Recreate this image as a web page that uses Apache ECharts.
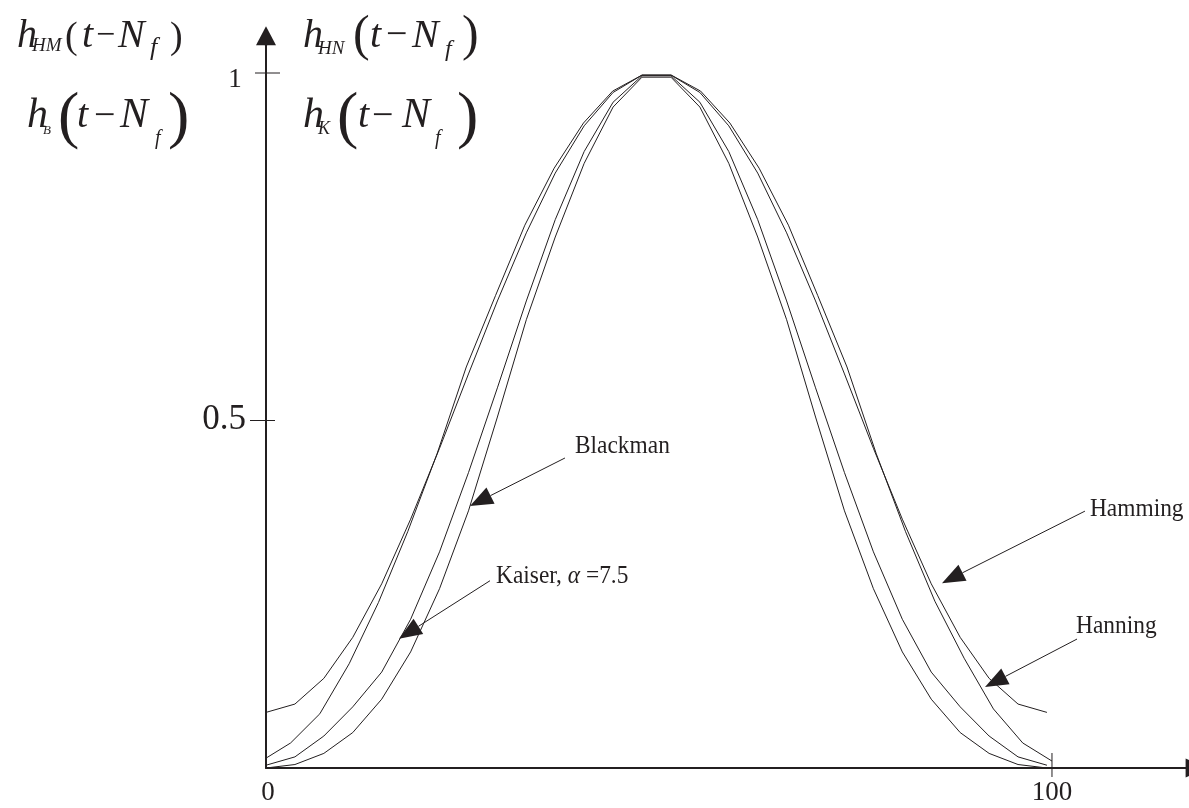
<!DOCTYPE html>
<html>
<head>
<meta charset="utf-8">
<script src="https://cdn.jsdelivr.net/npm/echarts@6/dist/echarts.min.js"></script>
<style>
  html, body { margin: 0; padding: 0; background: #ffffff; }
  #chart { width: 1189px; height: 808px; }
</style>
</head>
<body>
<div id="chart"></div>
<script>
// Sample positions of the shifted impulse responses (x axis, 0..100)
const tSamples = [0, 3.68, 7.36, 11.04, 14.72, 18.4, 22.08, 25.76, 29.44, 33.12, 36.8, 40.48, 44.16, 47.84,
                  51.52, 55.2, 58.88, 62.56, 66.24, 69.92, 73.6, 77.28, 80.96, 84.64, 88.32, 92, 95.68, 99.36];
const tHanning = [-0.6, 3.13, 6.85, 10.58, 14.3, 18.03, 21.76, 25.48, 29.21, 32.93, 36.66, 40.39, 44.11, 47.84,
                  51.56, 55.29, 59.02, 62.74, 66.47, 70.19, 73.92, 77.65, 81.37, 85.1, 88.82, 92.55, 96.28, 100];

// Window values
const hamming  = [0.080, 0.092, 0.129, 0.188, 0.265, 0.358, 0.460, 0.567, 0.672, 0.770, 0.856, 0.924, 0.972, 0.997,
                  0.997, 0.972, 0.924, 0.856, 0.770, 0.672, 0.567, 0.460, 0.358, 0.265, 0.188, 0.129, 0.092, 0.080];
const hanning  = [0.010, 0.036, 0.078, 0.150, 0.238, 0.340, 0.452, 0.577, 0.680, 0.781, 0.863, 0.928, 0.974, 0.997,
                  0.997, 0.974, 0.928, 0.863, 0.781, 0.680, 0.577, 0.452, 0.340, 0.240, 0.158, 0.085, 0.036, 0.010];
const kaiser   = [0.004, 0.016, 0.046, 0.088, 0.138, 0.214, 0.311, 0.425, 0.547, 0.672, 0.789, 0.887, 0.958, 0.996,
                  0.996, 0.958, 0.887, 0.789, 0.672, 0.547, 0.425, 0.311, 0.214, 0.138, 0.088, 0.046, 0.016, 0.004];
const blackman = [0.000, 0.005, 0.021, 0.051, 0.099, 0.167, 0.258, 0.370, 0.505, 0.645, 0.764, 0.870, 0.951, 0.994,
                  0.994, 0.951, 0.870, 0.764, 0.645, 0.505, 0.370, 0.258, 0.167, 0.099, 0.051, 0.021, 0.005, 0.000];

// Axis ticks and their labels
const xTickValues = [0, 100];
const xTickLabels = ['0', '100'];
const yTickValues = [0.5, 1];
const yTickLabels = ['0.5', '1'];

// Curve names used by the pointer labels
const curveNames = ['Hamming', 'Hanning', 'Kaiser', 'Blackman'];

const INK = '#231f20';
const SERIF = '"Liberation Serif", "Times New Roman", serif';

const curves = [
  { name: curveNames[0], t: tSamples, v: hamming },
  { name: curveNames[1], t: tHanning, v: hanning },
  { name: curveNames[2], t: tSamples, v: kaiser },
  { name: curveNames[3], t: tSamples, v: blackman }
];

const chart = echarts.init(document.getElementById('chart'), null, { renderer: 'canvas' });

chart.setOption({
  animation: false,
  backgroundColor: '#ffffff',
  grid: { left: 266, right: 3.4, top: 45.2, bottom: 40, containLabel: false },
  xAxis: {
    type: 'value', min: 0, max: 117,
    axisLine: {
      show: true, onZero: false,
      lineStyle: { color: INK, width: 2 },
      symbol: ['none', 'triangle'], symbolSize: [19, 20], symbolOffset: [0, 10]
    },
    axisTick: { show: false }, axisLabel: { show: false }, splitLine: { show: false }
  },
  yAxis: {
    type: 'value', min: 0, max: 1.04,
    axisLine: {
      show: true, onZero: false,
      lineStyle: { color: INK, width: 2 },
      symbol: ['none', 'triangle'], symbolSize: [20, 19], symbolOffset: [0, 9.5]
    },
    axisTick: { show: false }, axisLabel: { show: false }, splitLine: { show: false }
  },
  series: curves.map(c => ({
    type: 'line',
    name: c.name,
    data: c.t.map((t, i) => [t, c.v[i]]),
    showSymbol: false,
    clip: false,
    silent: true,
    lineStyle: { color: INK, width: 1 }
  }))
});

const toPx = (x, y) => chart.convertToPixel({ gridIndex: 0 }, [x, y]);
const g = [];

// text placed by its left edge and alphabetic baseline
function glyph(text, x, baseline, size, italic, squeeze) {
  return {
    type: 'text', silent: true,
    x, y: baseline - 0.34 * size,
    scaleX: squeeze || 1,
    style: {
      text, x: 0, y: 0,
      font: (italic ? 'italic ' : '') + size + 'px ' + SERIF,
      fill: INK, align: 'left', verticalAlign: 'middle'
    }
  };
}
// parenthesis placed by its vertical centre
function paren(text, x, centre, size) {
  return glyph(text, x, centre + 0.255 * size, size, false);
}

// y ticks cross the axis line
const yTickReach = [[16, 9], [11, 14]];
const yLabelSize = [35, 27];
const yLabelShift = [[-42, -1], [-31, 7]];
yTickValues.forEach((v, i) => {
  const [x0, y] = toPx(0, v);
  g.push({ type: 'line', silent: true,
    shape: { x1: x0 - yTickReach[i][0], y1: y, x2: x0 + yTickReach[i][1], y2: y },
    style: { stroke: INK, lineWidth: 1 } });
  g.push({ type: 'text', silent: true, style: {
    text: yTickLabels[i], x: x0 + yLabelShift[i][0], y: y + yLabelShift[i][1],
    font: yLabelSize[i] + 'px ' + SERIF, fill: INK, align: 'center', verticalAlign: 'middle' } });
});

// x tick at 100 crosses the axis; labels sit under the axis
xTickValues.forEach((v, i) => {
  const [x, y0] = toPx(v, 0);
  if (v !== 0) {
    g.push({ type: 'line', silent: true,
      shape: { x1: x, y1: y0 - 15, x2: x, y2: y0 + 9 },
      style: { stroke: INK, lineWidth: 1 } });
  }
  g.push({ type: 'text', silent: true, style: {
    text: xTickLabels[i], x: x + (v === 0 ? 2 : 0), y: y0 + 25,
    font: '27px ' + SERIF, fill: INK, align: 'center', verticalAlign: 'middle' } });
});

// pointer: a leader line with a filled head
function pointer(tip, tail) {
  const dx = tail[0] - tip[0], dy = tail[1] - tip[1];
  const len = Math.hypot(dx, dy);
  const ux = dx / len, uy = dy / len, nx = -uy, ny = ux;
  const L = 23, W = 18;
  const bx = tip[0] + ux * L, by = tip[1] + uy * L;
  g.push({ type: 'line', silent: true,
    shape: { x1: bx, y1: by, x2: tail[0], y2: tail[1] },
    style: { stroke: INK, lineWidth: 1 } });
  g.push({ type: 'polygon', silent: true,
    shape: { points: [[tip[0], tip[1]], [bx + nx * W / 2, by + ny * W / 2], [bx - nx * W / 2, by - ny * W / 2]] },
    style: { fill: INK } });
}

// pointer tips in data units, leader tails and label anchors in pixels from the tip
const pointers = [
  { name: curveNames[0], tip: [86.0, 0.266], tail: [143, -72], label: [148, -65] },
  { name: curveNames[1], tip: [91.48, 0.1165], tail: [92, -48], label: [91, -52] },
  { name: curveNames[2], tip: [16.92, 0.186], tail: [91, -58], label: [97, -54] },
  { name: curveNames[3], tip: [25.95, 0.377], tail: [95, -48], label: [105, -51] }
];
const LABEL_SIZE = 26, LABEL_SQUEEZE = 0.9;
pointers.forEach(p => {
  const tip = toPx(p.tip[0], p.tip[1]);
  const tail = [tip[0] + p.tail[0], tip[1] + p.tail[1]];
  pointer(tip, tail);
  const lx = tip[0] + p.label[0], base = tip[1] + p.label[1];
  if (p.name === 'Kaiser') {
    g.push({ type: 'text', silent: true,
      x: lx, y: base - 0.34 * LABEL_SIZE, scaleX: LABEL_SQUEEZE,
      style: {
        text: '{n|Kaiser, }{a|α}{n| =7.5}', x: 0, y: 0,
        verticalAlign: 'middle', align: 'left',
        rich: {
          n: { font: LABEL_SIZE + 'px ' + SERIF, fill: INK },
          a: { font: 'italic ' + LABEL_SIZE + 'px ' + SERIF, fill: INK }
        } } });
  } else {
    g.push(glyph(p.name, lx, base, LABEL_SIZE, false, LABEL_SQUEEZE));
  }
});

// axis captions: shifted impulse responses
const formulas = [
  // h_HM(t − N_f)
  ['h', 17, 50, 40, true], ['HM', 32, 52, 19, true], ['(', 65, 41.5, 38, 'p'], ['t', 82, 50, 40, true],
  ['−', 96, 48, 34, false], ['N', 118, 50, 40, true], ['f', 150, 57, 26, true], [')', 170, 41.5, 38, 'p'],
  // h_HN(t − N_f)
  ['h', 303, 50, 40, true], ['HN', 318, 55, 19, true], ['(', 353, 41.5, 50, 'p'], ['t', 370, 50, 40, true],
  ['−', 386, 49, 38, false], ['N', 412, 50, 40, true], ['f', 445, 58, 24, true], [')', 462, 41.5, 50, 'p'],
  // h_B(t − N_f)
  ['h', 27, 130, 42, true], ['B', 43, 135, 13, true], ['(', 58, 125, 64, 'p'], ['t', 77, 130, 40, true],
  ['−', 94, 130, 38, false], ['N', 120, 130, 42, true], ['f', 155, 146, 20, true], [')', 168, 125, 64, 'p'],
  // h_K(t − N_f)
  ['h', 303, 130, 42, true], ['K', 318, 135, 18, true], ['(', 337, 125, 64, 'p'], ['t', 358, 130, 40, true],
  ['−', 372, 130, 38, false], ['N', 402, 130, 42, true], ['f', 435, 146, 20, true], [')', 457, 125, 64, 'p']
];
formulas.forEach(f => {
  if (f[4] === 'p') g.push(paren(f[0], f[1], f[2], f[3]));
  else g.push(glyph(f[0], f[1], f[2], f[3], f[4]));
});

chart.setOption({ graphic: g });
</script>
</body>
</html>
